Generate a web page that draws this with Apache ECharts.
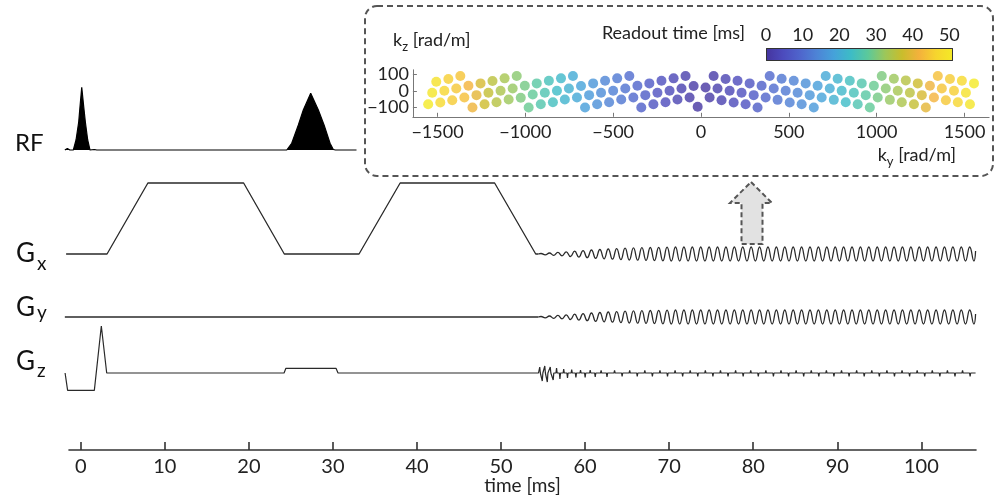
<!DOCTYPE html>
<html>
<head>
<meta charset="utf-8">
<script src="https://cdn.jsdelivr.net/npm/echarts@6/dist/echarts.min.js"></script>
<style>
  html, body { margin: 0; background: #fff; }
  #chart { width: 1001px; height: 495px; }
</style>
</head>
<body>
<div id="chart"></div>
<script>
// ---- main sequence diagram (time in ms, amplitudes in arbitrary units) ----
const timeTicks = [0, 10, 20, 30, 40, 50, 60, 70, 80, 90, 100];

const rfPts = [
  [-1.9, 0], [-1.6, 1.5], [-1.3, 0], [-0.89, 0], [-0.57, 10], [-0.25, 28], [-0.1, 43],
  [0.11, 62.7], [0.35, 43], [0.54, 28], [0.82, 10], [1.09, 0], [1.3, -1], [1.6, 0.5], [1.9, 0],
  [24.5, 0], [24.69, 0.5], [25.09, 6.7], [25.88, 25], [26.47, 40], [27.35, 56.7], [28.26, 40],
  [28.94, 25], [29.65, 6.7], [30.04, 0.5], [30.3, 0], [32.8, 0]
];

const gxPts = [
  [-1.75, 0], [3.12, 0], [7.98, 71], [19.37, 71], [24.21, 0], [33.1, 0],
  [37.99, 71], [49.23, 71], [54.12, 0], [54.45, 0]
];

const gyPts = [[-1.9, 0], [54.45, 0]];

const gzPts = [
  [-1.87, 0], [-1.57, -17.4], [1.61, -17.4], [2.44, 47], [3.08, 0], [24.18, 0],
  [24.4, 4.7], [30.36, 4.7], [30.6, 0], [54.45, 0]
];

// readout oscillation (shared by Gx and Gy): times of extremes and signed amplitude
const oscT = [
  54.75, 55.25, 55.75, 56.25, 56.75, 57.25, 57.75, 58.25, 58.75, 59.25,
  59.75, 60.25, 60.75, 61.25, 61.75, 62.25, 62.75, 63.25, 63.75, 64.25,
  64.75, 65.25, 65.75, 66.25, 66.75, 67.25, 67.75, 68.25, 68.75, 69.25,
  69.75, 70.25, 70.75, 71.25, 71.75, 72.25, 72.75, 73.25, 73.75, 74.25,
  74.75, 75.25, 75.75, 76.25, 76.75, 77.25, 77.75, 78.25, 78.75, 79.25,
  79.75, 80.25, 80.75, 81.25, 81.75, 82.25, 82.75, 83.25, 83.75, 84.25,
  84.75, 85.25, 85.75, 86.25, 86.75, 87.25, 87.75, 88.25, 88.75, 89.25,
  89.75, 90.25, 90.75, 91.25, 91.75, 92.25, 92.75, 93.25, 93.75, 94.25,
  94.75, 95.25, 95.75, 96.25, 96.75, 97.25, 97.75, 98.25, 98.75, 99.25,
  99.75, 100.25, 100.75, 101.25, 101.75, 102.25, 102.75, 103.25, 103.75, 104.25,
  104.75, 105.25, 105.75, 106.25
];
const oscA = [
  0.5, -0.8, 1, -1.3, 1.6, -1.9, 2.2, -2.5, 2.8, -3.1,
  3.4, -3.7, 4, -4.3, 4.5, -4.8, 5, -5.2, 5.4, -5.6,
  5.8, -6, 6.1, -6.2, 6.3, -6.4, 6.5, -6.6, 6.7, -6.8,
  6.9, -7, 7, -7, 7, -7, 7, -7, 7, -7,
  7, -7, 7, -7, 7, -7, 7, -7, 7, -7,
  7, -7, 7, -7, 7, -7, 7, -7, 7, -7,
  7, -7, 7, -7, 7, -7, 7, -7, 7, -7,
  7, -7, 7, -7, 7, -7, 7, -7, 7, -7,
  7, -7, 7, -7, 7, -7, 7, -7, 7, -7,
  7, -7, 7, -7, 7, -7, 7, -7, 7, -7,
  7, -7, 7, -7
];

// Gz blips during readout
const gzBlipT = [
  54.6, 54.9, 55.2, 55.5, 55.85, 56.2, 56.6, 57.0, 57.45, 57.9, 58.4, 58.9, 59.45, 60.0,
  60.6, 61.2, 61.9, 62.6, 63.5, 64.4, 65.3, 66.2, 67.1, 68.0, 68.9, 69.8, 70.7, 71.6,
  72.5, 73.4, 74.3, 75.2, 76.1, 77.0, 77.9, 78.8, 79.7, 80.6, 81.5, 82.4, 83.3, 84.2,
  85.1, 86.0, 86.9, 87.8, 88.7, 89.6, 90.5, 91.4, 92.3, 93.2, 94.1, 95.0, 95.9, 96.8,
  97.7, 98.6, 99.5, 100.4, 101.3, 102.2, 103.1, 104.0, 104.9, 105.8
];
const gzBlipA = [
  6, -8, 7, -9, 6, -7, 5, -6, 4, -5, 3.5, -4.5, 3, -4.5,
  3, -4, 2.5, -4, 2.5, -3.5, 2.5, -3.5, 2.5, -3.5, 2.5, -3.5, 2.5, -3.5,
  2.5, -3.5, 2.5, -3.5, 2.5, -3.5, 2.5, -3.5, 2.5, -3.5, 2.5, -3.5, 2.5, -3.5,
  2.5, -3.5, 2.5, -3.5, 2.5, -3.5, 2.5, -3.5, 2.5, -3.5, 2.5, -3.5, 2.5, -3.5,
  2.5, -3.5, 2.5, -3.5, 2.5, -3.5, 2.5, -3.5, 2.5, -3.5
];

// ---- inset: ky-kz sampling pattern coloured by readout time ----
const kyTicks = [-1500, -1000, -500, 0, 500, 1000, 1500];
const kzTicks = [-100, 0, 100];
const cbTicks = [0, 10, 20, 30, 40, 50];

const kyVals = [
  -1553, -1530, -1507, -1484, -1461, -1438, -1416, -1393, -1370, -1347, -1324, -1301, -1278, -1255,
  -1232, -1210, -1187, -1164, -1141, -1118, -1095, -1072, -1049, -1026, -1003, -981, -958, -935,
  -912, -889, -866, -843, -820, -797, -775, -752, -729, -706, -683, -660, -637, -614,
  -591, -569, -546, -523, -500, -477, -454, -431, -408, -385, -362, -340, -317, -294,
  -271, -248, -225, -202, -179, -156, -134, -111, -88, -65, -42, -19,
  26, 49,
  72, 94, 117, 140, 163, 186, 208, 231, 254, 277, 300, 322, 345, 368,
  391, 414, 436, 459, 482, 505, 528, 550, 573, 596, 619, 642, 664, 687,
  710, 733, 756, 778, 801, 824, 847, 870, 892, 915, 938, 961, 984, 1006,
  1029, 1052, 1075, 1098, 1120, 1143, 1166, 1189, 1212, 1234, 1257, 1280, 1303, 1326,
  1348, 1371, 1394, 1417, 1440, 1462, 1485, 1508, 1531, 1554
];
const kzVals = [
  -80, -12, 54, -70, 0, 70, -56, 14, 88, -40, 30, -100, -26, 44,
  -80, -12, 58, -68, 0, 74, -52, 14, 88, -42, 30, -100, -22, 44,
  -80, -12, 60, -68, 0, 74, -52, 14, 88, -40, 28, -100, -26, 44,
  -80, -12, 60, -68, 0, 74, -52, 14, 88, -40, 30, -100, -26, 44,
  -80, -12, 60, -68, 0, 74, -52, 14, 88, -40, 28, -95,
  20, -40,
  88, 14, -56, 70, 0, -70, 60, -12, -80, 44, -26, -100, 30, -40,
  88, 14, -54, 72, 0, -70, 60, -12, -80, 44, -26, -100, 30, -40,
  88, 14, -54, 72, 0, -68, 60, -12, -80, 44, -26, -100, 30, -40,
  88, 14, -54, 72, 0, -68, 62, -12, -80, 44, -26, -100, 30, -40,
  88, 14, -56, 70, 0, -68, 60, -12, -80, 44
];
const tVals = [
  51, 50, 49, 47.5, 46.5, 45.5, 45, 44.5, 44, 43.5, 42, 41, 40, 38.5,
  37.5, 36.5, 35.5, 35, 34, 33.5, 32.5, 32, 31, 30, 29.5, 28.5, 28, 27,
  26, 25.5, 24.5, 24, 23, 22.5, 21.5, 21, 20, 19.5, 18.5, 18, 17, 16.5,
  15.5, 15, 14, 13.5, 13, 12, 11.5, 11, 10, 9.5, 9, 8, 7.5, 7,
  6, 5.5, 5, 4.5, 4, 3.5, 3, 2.5, 2, 1.5, 1, 0.5,
  0.5, 1, 1.5, 2, 2.5, 3, 3.5, 4, 4.5, 5, 5.5, 6,
  7, 7.5, 8, 9, 9.5, 10, 11, 11.5, 12, 13, 13.5, 14, 15, 15.5,
  16.5, 17, 18, 18.5, 19.5, 20, 21, 21.5, 22.5, 23, 24, 24.5, 25.5, 26,
  27, 28, 28.5, 29.5, 30, 31, 32, 32.5, 33.5, 34, 35, 35.5, 36.5, 37.5,
  38.5, 40, 41, 42, 43.5, 44, 44.5, 45, 45.5, 46.5, 47.5, 49, 50, 51
];

// colour scale as it appears in the figure (parula-like)
const cmap = ['#45349e', '#4c4bbd', '#4f65cc', '#4d84d6', '#45a2da', '#3dbcc6', '#5cc99a',
  '#9cc75a', '#c9bd2c', '#f4b13c', '#f6d52e', '#f4ea26'];

// ---- build series data ----
const FONT = 'Lato, "Open Sans", sans-serif';
const ink = '#222';

const wave = [[54.45, 0]].concat(oscT.map((t, i) => [t, oscA[i]]), [[106.45, 3]]);

const gzTail = [];
gzBlipT.forEach((t, i) => {
  gzTail.push([t - 0.07, 0], [t, gzBlipA[i]], [t + 0.07, 0]);
});
gzTail.push([106.45, 0]);
const gzAll = gzPts.concat(gzTail);

const scatterData = kyVals.map((k, i) => [k, kzVals[i], tVals[i]]);

const minus = v => (v < 0 ? '\u2212' + Math.abs(v) : String(v));

const traceGrid = (top, height) => ({ left: 64, right: 25, top: top, height: height, outerBoundsMode: 'none' });
const hiddenX = i => ({ gridIndex: i, type: 'value', min: -2, max: 106.5, show: false });
const hiddenY = (i, mn, mx) => ({ gridIndex: i, type: 'value', min: mn, max: mx, show: false });
const lineS = (i, data, extra) => Object.assign({
  type: 'line', xAxisIndex: i, yAxisIndex: i, data: data, symbol: 'none', silent: true,
  lineStyle: { color: '#2a2a2a', width: 1.3 }
}, extra || {});

const chart = echarts.init(document.getElementById('chart'), null, { renderer: 'canvas' });

const cbGradient = new echarts.graphic.LinearGradient(0, 0, 1, 0,
  cmap.map((c, i) => ({ offset: i / (cmap.length - 1), color: c })));

const graphics = [
  { type: 'rect', shape: { x: 365, y: 6, width: 628, height: 170, r: 12 },
    style: { fill: 'none', stroke: '#555', lineWidth: 2, lineDash: [6, 4] }, silent: true },
  { type: 'polygon', shape: { points: [[751, 182], [772, 203], [762.5, 203], [762.5, 244], [741.5, 244], [741.5, 203], [730, 203]] },
    style: { fill: '#e2e2e2', stroke: '#555', lineWidth: 2, lineDash: [5, 3] }, silent: true },
  { type: 'text', x: 15, y: 143.5, style: { text: 'RF', fontSize: 24, fontFamily: FONT, fill: '#111', textVerticalAlign: 'middle', verticalAlign: 'middle' } },
  { type: 'text', x: 16, y: 254, style: { text: 'G', fontSize: 26, fontFamily: FONT, fill: '#111', textVerticalAlign: 'middle', verticalAlign: 'middle' } },
  { type: 'text', x: 37, y: 264, style: { text: 'x', fontSize: 19, fontFamily: FONT, fill: '#111', textVerticalAlign: 'middle', verticalAlign: 'middle' } },
  { type: 'text', x: 16, y: 307.5, style: { text: 'G', fontSize: 26, fontFamily: FONT, fill: '#111', textVerticalAlign: 'middle', verticalAlign: 'middle' } },
  { type: 'text', x: 37, y: 313, style: { text: 'y', fontSize: 19, fontFamily: FONT, fill: '#111', textVerticalAlign: 'middle', verticalAlign: 'middle' } },
  { type: 'text', x: 16, y: 362, style: { text: 'G', fontSize: 26, fontFamily: FONT, fill: '#111', textVerticalAlign: 'middle', verticalAlign: 'middle' } },
  { type: 'text', x: 37, y: 370.5, style: { text: 'z', fontSize: 19, fontFamily: FONT, fill: '#111', textVerticalAlign: 'middle', verticalAlign: 'middle' } },
  { type: 'text', x: 393, y: 42, style: {
      text: '{n|k}{s|z}{n| [rad/m]}', fill: ink, textVerticalAlign: 'middle', verticalAlign: 'middle',
      rich: { n: { fontSize: 18, fontFamily: FONT, fill: ink, verticalAlign: 'top', lineHeight: 22 },
              s: { fontSize: 13, fontFamily: FONT, fill: ink, verticalAlign: 'bottom', lineHeight: 8 } } } },
  { type: 'text', x: 956, y: 157, style: {
      text: '{n|k}{s|y}{n| [rad/m]}', fill: ink, textAlign: 'right', align: 'right', textVerticalAlign: 'middle', verticalAlign: 'middle',
      rich: { n: { fontSize: 18, fontFamily: FONT, fill: ink, verticalAlign: 'top', lineHeight: 22 },
              s: { fontSize: 13, fontFamily: FONT, fill: ink, verticalAlign: 'bottom', lineHeight: 8 } } } },
  { type: 'text', x: 745, y: 33, style: { text: 'Readout time [ms]', fontSize: 18, fontFamily: FONT, fill: ink,
      textAlign: 'right', align: 'right', textVerticalAlign: 'middle', verticalAlign: 'middle' } }
];

const option = {
  animation: false,
  backgroundColor: '#fff',
  grid: [
    traceGrid(80, 80),     // RF
    traceGrid(170, 100),   // Gx
    traceGrid(300, 35),    // Gy
    traceGrid(320, 80),    // Gz
    { left: 69, right: 25, top: 400, height: 50, outerBoundsMode: 'none' },          // time axis
    { left: 412.9, right: 11.9, top: 69.8, height: 47, outerBoundsMode: 'none' },    // inset scatter
    { left: 766, width: 187, top: 48, height: 13, outerBoundsMode: 'none' }          // colour bar
  ],
  xAxis: [
    hiddenX(0), hiddenX(1), hiddenX(2), hiddenX(3),
    {
      gridIndex: 4, type: 'value', min: -1.4, max: 106.5,
      axisLine: { lineStyle: { color: '#333', width: 1.6 } },
      axisTick: { inside: true, length: 8, customValues: timeTicks, lineStyle: { color: '#333', width: 1.6 } },
      axisLabel: { customValues: timeTicks, fontSize: 20, fontFamily: FONT, color: ink, margin: 7 },
      splitLine: { show: false },
      name: 'time [ms]', nameLocation: 'middle', nameGap: 26, nameMoveOverlap: false,
      nameTextStyle: { fontSize: 19, fontFamily: FONT, color: ink }
    },
    {
      gridIndex: 5, type: 'value', min: -1640, max: 1640,
      axisLine: { onZero: false, lineStyle: { color: '#777', width: 1 } },
      axisTick: { inside: true, length: 4, customValues: kyTicks, lineStyle: { color: '#777' } },
      axisLabel: { customValues: kyTicks, formatter: minus, fontSize: 18, fontFamily: FONT, color: ink, margin: 6 },
      splitLine: { show: false }
    },
    {
      gridIndex: 6, type: 'value', position: 'top', min: 0, max: 51,
      axisLine: { show: false }, axisTick: { show: false }, splitLine: { show: false },
      axisLabel: { customValues: cbTicks, fontSize: 18, fontFamily: FONT, color: ink, margin: 4 }
    },
    {
      gridIndex: 6, type: 'value', position: 'bottom', min: 0, max: 51, z: 10,
      axisLine: { show: false }, axisLabel: { show: false }, splitLine: { show: false },
      axisTick: { inside: true, length: 3, customValues: [10, 20, 30, 40, 50], lineStyle: { color: '#444' } }
    }
  ],
  yAxis: [
    hiddenY(0, -10, 70),
    hiddenY(1, -16, 84),
    hiddenY(2, -18, 17),
    hiddenY(3, -27, 53),
    hiddenY(4, 0, 1),
    {
      gridIndex: 5, type: 'value', min: -155, max: 125,
      axisLine: { show: true, onZero: false, lineStyle: { color: '#777', width: 1 } },
      axisTick: { show: true, inside: true, length: 4, customValues: kzTicks, lineStyle: { color: '#777' } },
      axisLabel: { show: false },
      splitLine: { show: false }
    },
    { gridIndex: 6, type: 'category', data: ['bar'], show: false }
  ],
  visualMap: [{
    type: 'continuous', show: false, min: 0, max: 51, dimension: 2, seriesIndex: 6,
    inRange: { color: cmap }
  }],
  series: [
    lineS(0, rfPts, { lineStyle: { color: '#000', width: 1.2 }, areaStyle: { color: '#000', opacity: 1, origin: 0 } }),
    lineS(1, gxPts),
    lineS(1, wave, { smooth: true }),
    lineS(2, gyPts),
    lineS(2, wave, { smooth: true }),
    lineS(3, gzAll, { lineStyle: { color: '#2a2a2a', width: 1.2 } }),
    {
      type: 'scatter', xAxisIndex: 5, yAxisIndex: 5, data: scatterData, symbolSize: 10, silent: true
    },
    {
      type: 'bar', xAxisIndex: 6, yAxisIndex: 6, data: [51], barWidth: '100%', silent: true,
      itemStyle: { color: cbGradient, borderColor: '#333', borderWidth: 1 }
    }
  ],
  graphic: graphics
};

chart.setOption(option);

// kz tick labels placed through the inset's own scale (the axis would drop them as overlapping)
const kzLabels = kzTicks.map(v => {
  const p = chart.convertToPixel({ gridIndex: 5 }, [-1640, v]);
  return { type: 'text', x: p[0] - 4, y: p[1], silent: true,
    style: { text: minus(v), fontSize: 18, fontFamily: FONT, fill: ink,
      textAlign: 'right', align: 'right', textVerticalAlign: 'middle', verticalAlign: 'middle' } };
});
chart.setOption({ graphic: graphics.concat(kzLabels) });
</script>
</body>
</html>
